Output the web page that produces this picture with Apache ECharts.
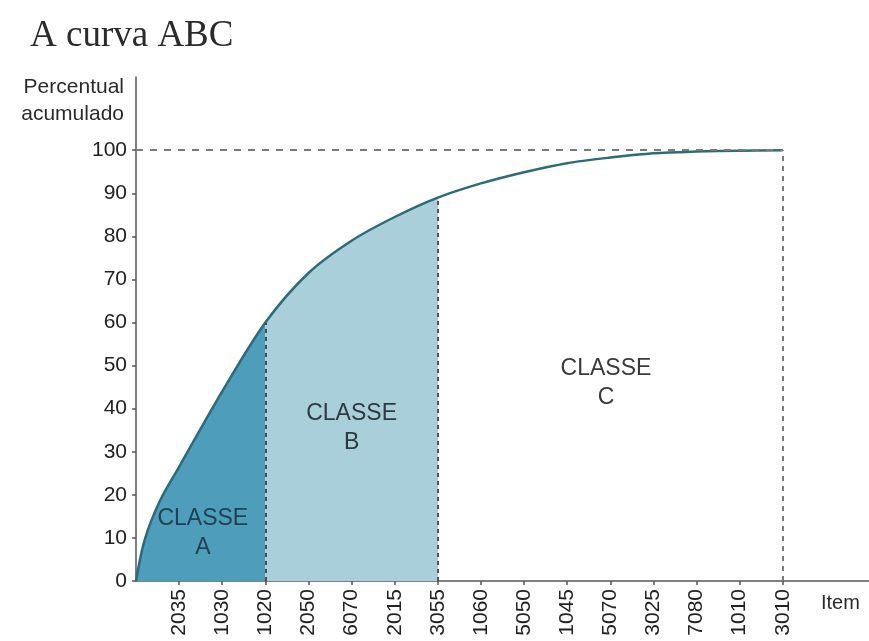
<!DOCTYPE html>
<html>
<head>
<meta charset="utf-8">
<script src="https://cdn.jsdelivr.net/npm/echarts@6/dist/echarts.min.js"></script>
<style>
  html, body { margin: 0; padding: 0; background: #ffffff; }
  #chart { width: 869px; height: 641px; }
</style>
</head>
<body>
<div id="chart"></div>
<script>
// ---- data ----
const titleText = 'A curva ABC';
const yAxisTitle = 'Percentual\nacumulado';
const xAxisTitle = 'Item';
const items = ['2035', '1030', '1020', '2050', '6070', '2015', '3055', '1060', '5050', '1045', '5070', '3025', '7080', '1010', '3010'];
// cumulative percentage; index 0 is the origin, index i is item i
const cumulative = [0, 26.5, 44, 60, 71.5, 79, 84.5, 89, 92.3, 94.9, 97, 98.3, 99.3, 99.7, 99.9, 100];
// extra readings of the curve between the origin and the first item (x in item units)
const startCurveX = [0.2, 0.55];
const startCurveY = [9.5, 18.5];
const yTicks = [0, 10, 20, 30, 40, 50, 60, 70, 80, 90, 100];
const classNames = ['CLASSE\nA', 'CLASSE\nB', 'CLASSE\nC'];
const classBounds = [0, 3, 7, 15]; // item index where each class ends

// ---- build ----
const points = [[0, cumulative[0]]]
  .concat(startCurveX.map((x, i) => [x, startCurveY[i]]))
  .concat(cumulative.slice(1).map((v, i) => [i + 1, v]));
const itemTicks = items.map((_, i) => i + 1);

const colA = '#4d9dbb';
const colB = '#a8cfda';
const curveCol = '#2d6b79';
const font = 'Liberation Sans, Arial, sans-serif';

const chart = echarts.init(document.getElementById('chart'), null, { renderer: 'canvas' });

const last = classBounds[classBounds.length - 1];
const option = {
  animation: false,
  backgroundColor: '#ffffff',
  title: {
    text: titleText,
    left: 25,
    top: 13,
    textStyle: { fontFamily: 'Liberation Serif, Times New Roman, serif', fontSize: 37, fontWeight: 'normal', color: '#2b2b2b' }
  },
  grid: { left: 136, right: 0, top: 77, bottom: 60, containLabel: false },
  xAxis: {
    type: 'value',
    min: 0,
    max: 17,
    name: xAxisTitle,
    nameLocation: 'end',
    nameGap: -48,
    nameTextStyle: { fontFamily: font, fontSize: 20, color: '#2a2a2a', align: 'left', verticalAlign: 'top', padding: [12, 0, 0, 0] },
    splitLine: { show: false },
    axisLine: { lineStyle: { color: '#555', width: 1.5 } },
    axisTick: { show: true, length: 4, customValues: itemTicks, lineStyle: { color: '#555', width: 1.5 } },
    axisLabel: {
      customValues: itemTicks,
      rotate: 90,
      margin: 8,
      fontFamily: font,
      fontSize: 21,
      color: '#222',
      formatter: v => items[Math.round(v) - 1] || ''
    }
  },
  yAxis: {
    type: 'value',
    min: 0,
    max: 117,
    name: yAxisTitle,
    nameLocation: 'end',
    nameGap: -24,
    nameTextStyle: { fontFamily: font, fontSize: 21, lineHeight: 27, color: '#2a2a2a', align: 'right', verticalAlign: 'middle', padding: [0, 12, 0, 0] },
    splitLine: { show: false },
    axisLine: { show: true, lineStyle: { color: '#555', width: 1.5 } },
    axisTick: { show: true, length: 4, customValues: yTicks, lineStyle: { color: '#555', width: 1.5 } },
    axisLabel: { customValues: yTicks, margin: 9, fontFamily: font, fontSize: 21, color: '#222' }
  },
  visualMap: {
    show: false,
    type: 'piecewise',
    seriesIndex: 0,
    dimension: 0,
    pieces: [
      { gte: classBounds[0], lte: classBounds[1], color: colA },
      { gt: classBounds[1], lte: classBounds[2], color: colB },
      { gt: classBounds[2], lte: 100, color: 'rgba(255,255,255,0)' }
    ]
  },
  series: [
    {
      type: 'line',
      data: points,
      smooth: 0.3,
      symbol: 'none',
      silent: true,
      lineStyle: { width: 0 },
      areaStyle: { opacity: 1 },
      z: 1
    },
    {
      type: 'line',
      data: points,
      smooth: 0.3,
      symbol: 'none',
      silent: true,
      lineStyle: { color: curveCol, width: 2.5 },
      itemStyle: { color: curveCol },
      z: 3,
      markLine: {
        silent: true,
        symbol: 'none',
        label: { show: false },
        animation: false,
        data: [
          [{ coord: [0, 100], lineStyle: { color: '#7a7a7a', type: [7, 7], width: 2 } }, { coord: [last, 100] }],
          [{ coord: [classBounds[1], 0], lineStyle: { color: '#4a4a4a', type: [4, 4], width: 2 } }, { coord: [classBounds[1], cumulative[classBounds[1]]] }],
          [{ coord: [classBounds[2], 0], lineStyle: { color: '#555', type: [4, 4], width: 2 } }, { coord: [classBounds[2], cumulative[classBounds[2]]] }],
          [{ coord: [last, 0], lineStyle: { color: '#7a7a7a', type: [5, 5], width: 2 } }, { coord: [last, 100] }]
        ]
      },
      markPoint: {
        silent: true,
        symbol: 'circle',
        symbolSize: 1,
        itemStyle: { color: 'rgba(0,0,0,0)' },
        label: { show: true, position: 'inside', fontFamily: font, fontSize: 23, lineHeight: 29, align: 'center' },
        data: [
          { coord: [1.55, 11], label: { formatter: classNames[0], color: '#1f4352' } },
          { coord: [5, 35.5], label: { formatter: classNames[1], color: '#2e3a40' } },
          { coord: [10.9, 46], label: { formatter: classNames[2], color: '#3a3a3a' } }
        ]
      }
    }
  ]
};
chart.setOption(option);
</script>
</body>
</html>
